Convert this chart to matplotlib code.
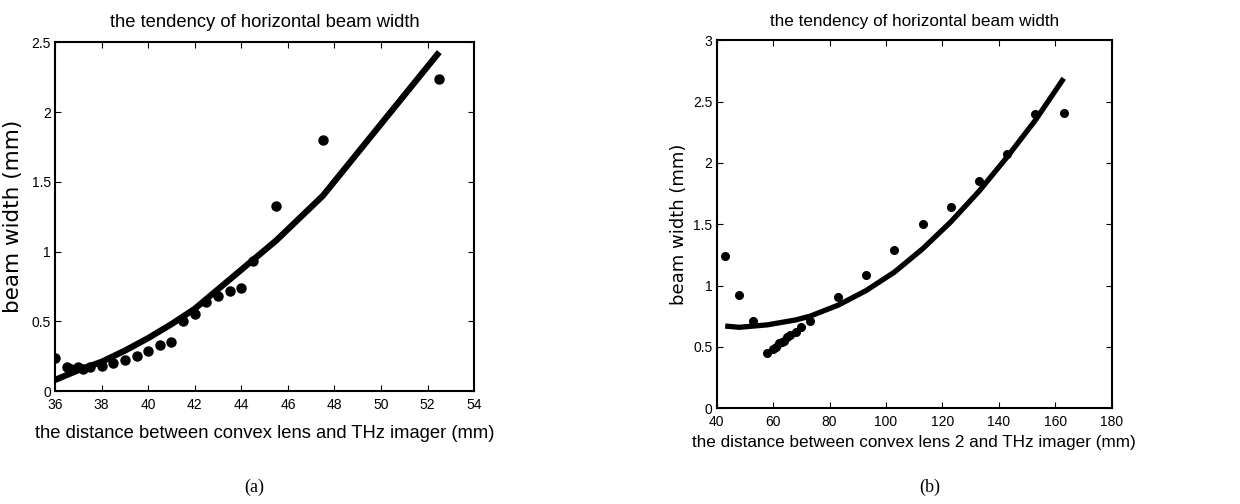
import numpy as np
import matplotlib
matplotlib.use('Agg')
import matplotlib.pyplot as plt

plt.rcParams['font.family'] = ['Liberation Sans', 'DejaVu Sans']

# (a) measured points and fitted curve
distA = [36, 36.5, 36.7, 37, 37.2, 37.5, 38, 38.5, 39, 39.5, 40, 40.5, 41,
         41.5, 42, 42.5, 43, 43.5, 44, 44.5, 45.5, 47.5, 52.5]
widthA = [0.24, 0.17, 0.16, 0.17, 0.16, 0.17, 0.18, 0.20, 0.22, 0.25, 0.29, 0.33, 0.35,
          0.50, 0.55, 0.64, 0.68, 0.72, 0.74, 0.93, 1.33, 1.80, 2.24]
fitDistA = [36, 37, 38, 39, 40, 41, 42, 43, 44, 44.5, 45.5, 47.5, 52.5]
fitWidthA = [0.08, 0.15, 0.21, 0.29, 0.38, 0.48, 0.59, 0.73, 0.87, 0.94, 1.08, 1.40, 2.43]

# (b) measured points and fitted curve
distB = [43, 48, 53, 58, 60, 61, 62, 63, 64, 65, 66, 68, 70, 73,
         83, 93, 103, 113, 123, 133, 143, 153, 163]
widthB = [1.24, 0.92, 0.71, 0.45, 0.48, 0.50, 0.53, 0.54, 0.55, 0.58, 0.60, 0.62, 0.66, 0.71,
          0.91, 1.09, 1.29, 1.50, 1.64, 1.85, 2.07, 2.40, 2.41]
fitDistB = [43, 48, 53, 58, 63, 68, 73, 83, 93, 103, 113, 123, 133, 143, 153, 163]
fitWidthB = [0.67, 0.66, 0.67, 0.68, 0.70, 0.72, 0.75, 0.84, 0.96, 1.11, 1.30, 1.52,
             1.77, 2.05, 2.35, 2.69]


def styleAxes(ax):
    ax.tick_params(direction='in', top=True, right=True, length=4, width=0.8,
                   labelsize=10, pad=3)
    ax.tick_params(axis='x', pad=5)
    for s in ax.spines.values():
        s.set_linewidth(1.5)


fig = plt.figure(figsize=(12.4, 5.04), dpi=100)

ax1 = fig.add_axes([0.0444, 0.224, 0.338, 0.692])
ax1.plot(fitDistA, fitWidthA, color='black', linewidth=4.5, solid_capstyle='butt')
ax1.plot(distA, widthA, 'o', color='black', markersize=6.5)
ax1.set_xlim(36, 54)
ax1.set_ylim(0, 2.5)
ax1.set_xticks(np.arange(36, 55, 2))
ax1.set_yticks([0, 0.5, 1, 1.5, 2, 2.5])
ax1.set_yticklabels(['0', '0.5', '1', '1.5', '2', '2.5'])
styleAxes(ax1)
ax1.set_title('the tendency of horizontal beam width', fontsize=13.2, pad=11)
ax1.set_xlabel('the distance between convex lens and THz imager (mm)', fontsize=13.2, labelpad=9)
ax1.set_ylabel('beam width (mm)', fontsize=15.5, family=['DejaVu Sans'])
ax1.yaxis.set_label_coords(-0.076, 0.5)

ax2 = fig.add_axes([0.578, 0.190, 0.3185, 0.730])
ax2.plot(fitDistB, fitWidthB, color='black', linewidth=3.8, solid_capstyle='butt')
ax2.plot(distB, widthB, 'o', color='black', markersize=5.5)
ax2.set_xlim(40, 180)
ax2.set_ylim(0, 3)
ax2.set_xticks(np.arange(40, 181, 20))
ax2.set_yticks([0, 0.5, 1, 1.5, 2, 2.5, 3])
ax2.set_yticklabels(['0', '0.5', '1', '1.5', '2', '2.5', '3'])
styleAxes(ax2)
ax2.set_title('the tendency of horizontal beam width', fontsize=12.3, pad=10)
ax2.set_xlabel('the distance between convex lens 2 and THz imager (mm)', fontsize=12.3, labelpad=4)
ax2.set_ylabel('beam width (mm)', fontsize=13, family=['DejaVu Sans'])
ax2.yaxis.set_label_coords(-0.073, 0.5)

fig.text(254 / 1240, 1 - 487 / 504, '(a)', ha='center', va='center',
         fontsize=13, family=['Liberation Serif', 'DejaVu Serif'])
fig.text(930 / 1240, 1 - 487 / 504, '(b)', ha='center', va='center',
         fontsize=13, family=['Liberation Serif', 'DejaVu Serif'])

fig.savefig('out.png', dpi=100)
